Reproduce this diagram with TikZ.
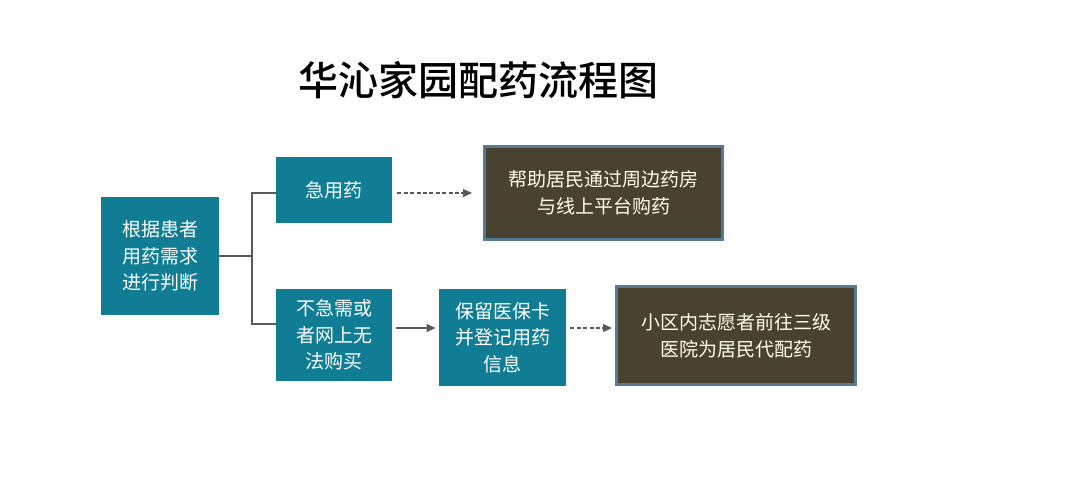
\documentclass[tikz,border=0pt]{standalone}
\usepackage{fontspec}
\setmainfont{Noto Sans CJK SC}
\newfontfamily\titlefont{Noto Sans CJK SC Medium}
\usetikzlibrary{shapes,arrows.meta}
\definecolor{tealbox}{RGB}{16,125,148}
\definecolor{darkbox}{RGB}{74,66,48}
\definecolor{edgeblue}{RGB}{84,122,150}
\definecolor{linegray}{RGB}{90,90,90}

\begin{document}
\begin{tikzpicture}[x=0.5pt,y=-0.5pt,
    tbox/.style={rectangle, fill=tealbox, text=white, align=center, inner sep=0pt, font=\fontsize{9.5}{13.3}\selectfont},
    dbox/.style={rectangle, fill=darkbox, draw=edgeblue, line width=1.5pt, text=white!92!yellow, align=center, inner sep=0pt, font=\fontsize{9.5}{13.3}\selectfont},
    conn/.style={draw=linegray, line width=0.6pt},
    dashline/.style={dash pattern=on 2pt off 1.2pt},
    >={Triangle[length=4.5pt,width=4pt]}]
    \useasboundingbox (0,0) rectangle (1080,499);
    \node (T) at (478, 80) {\titlefont\fontsize{20}{24}\selectfont 华沁家园配药流程图};
    \node (A) [tbox, minimum width=59pt, minimum height=59pt] at (160, 256) {根据患者\\用药需求\\进行判断};
    \node (B) [tbox, minimum width=58pt, minimum height=33pt] at (334, 190) {急用药};
    \node (C) [dbox, minimum width=119pt, minimum height=46.5pt] at (603.5, 193) {帮助居民通过周边药房\\与线上平台购药};
    \node (D) [tbox, minimum width=58pt, minimum height=46pt] at (334, 335) {不急需或\\者网上无\\法购买};
    \node (E) [tbox, minimum width=63.5pt, minimum height=48.5pt] at (502.5, 337.5) {保留医保卡\\并登记用药\\信息};
    \node (F) [dbox, minimum width=119.5pt, minimum height=49pt] at (736, 335.5) {小区内志愿者前往三级\\医院为居民代配药};
    \coordinate (J) at (252, 256);
    \draw [conn] (A) -- (J);
    \draw [conn] (J) |- (B.west |- 0,193);
    \draw [conn] (J) |- (D.west |- 0,324);
    \draw [conn, dashline, ->, shorten <=2.5pt, shorten >=5.5pt] (B.east |- 0,193) -- (C.west |- 0,193);
    \draw [conn, ->, shorten <=2pt, shorten >=1.5pt] (D.east |- 0,328) -- (E.west |- 0,328);
    \draw [conn, dashline, ->, shorten <=2pt, shorten >=1.5pt] (E.east |- 0,328) -- (F.west |- 0,328);
\end{tikzpicture}
\end{document}
